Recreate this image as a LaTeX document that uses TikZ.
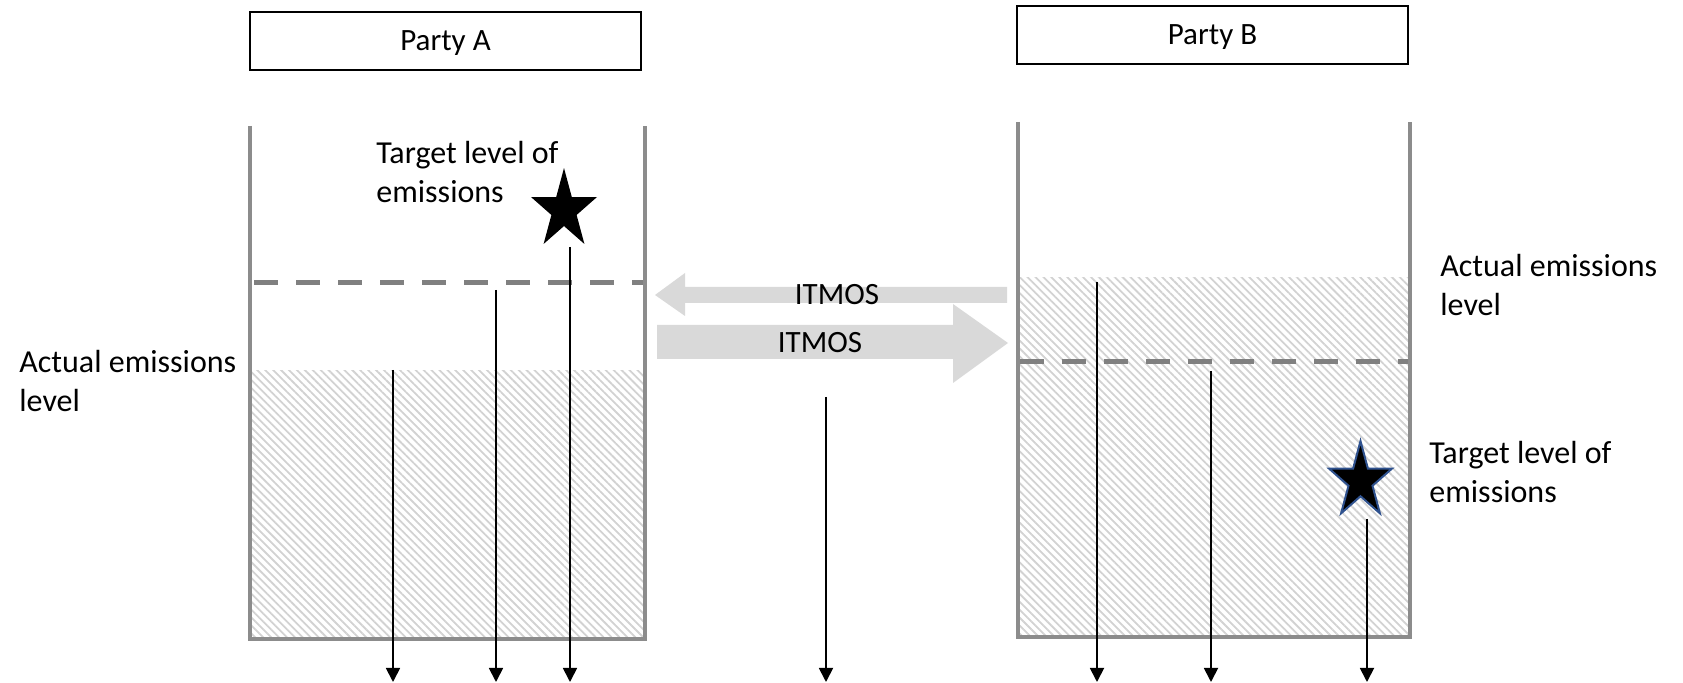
\documentclass[tikz,border=0pt]{standalone}
\usepackage{fontspec}
\setmainfont{Carlito}
\usetikzlibrary{arrows.meta,patterns.meta,shapes.geometric}
\definecolor{boxgray}{HTML}{8C8C8C}
\definecolor{dashgray}{HTML}{808080}
\definecolor{hatch}{HTML}{D2D2D2}
\definecolor{arrgray}{HTML}{D9D9D9}
\definecolor{starblue}{HTML}{2F528F}
\begin{document}
\begin{tikzpicture}[x=0.5pt,y=-0.5pt,
 lbl/.style={font=\fontsize{16}{19.5}\selectfont, inner sep=0pt, align=left, anchor=north west},
 party/.style={draw=black, line width=0.8pt, minimum width=195.5pt, minimum height=29pt, inner sep=0pt, text height=10pt, text depth=0pt, font=\fontsize{15.5}{19}\selectfont},
 container/.style={draw=boxgray, line width=2pt},
 level/.style={draw=dashgray, line width=2.5pt, dash pattern=on 12pt off 9pt},
 hatched/.style={pattern={Lines[angle=-45,distance=2.8pt,line width=0.9pt]}, pattern color=hatch},
 flow/.style={draw=black, line width=0.9pt, -{Triangle[width=7pt,length=7pt]}},
 bigarrow/.style={fill=arrgray},
 itmos/.style={font=\fontsize{15.5}{19}\selectfont, inner sep=0pt},
 starshape/.style={star, star points=5, star point ratio=2.618, inner sep=0pt, fill=black},
]
\useasboundingbox (0,0) rectangle (1683,683);

% party boxes
\node[party] (partyA) at (445.5,41) {Party A};
\node[party] (partyB) at (1212.5,35) {Party B};

% hatched areas
\path[hatched] (251,371) rectangle (645,639);
\path[hatched] (1018,278) rectangle (1410,637);

% containers
\draw[container] (250,126) -- (250,639) -- (645,639) -- (645,126);
\draw[container] (1018,122) -- (1018,637) -- (1410,637) -- (1410,122);

% dashed levels
\draw[level] (254,283) -- (643,283);
\draw[level] (1020,362) -- (1408,362);

% big grey arrows
\path[bigarrow] (1007,287) -- (685,287) -- (685,273) -- (655,295) -- (685,316) -- (685,303) -- (1007,303) -- cycle;
\path[bigarrow] (657,325) -- (953,325) -- (953,304) -- (1008,343) -- (953,383) -- (953,359) -- (657,359) -- cycle;
\node[itmos] (itmosL) at (837,295) {ITMOS};
\node[itmos] (itmosR) at (820,343) {ITMOS};

% stars
\node[starshape, minimum size=34.7pt, yscale=1.21] (starA) at (564,210) {};
\node[starshape, draw=starblue, line width=1pt, minimum size=33pt, yscale=1.21] (starB) at (1360.5,481) {};

% labels
\node[lbl] (tA) at (376,141) {Target level of\\emissions};
\node[lbl] (aA) at (19,350) {Actual emissions\\level};
\node[lbl] (aB) at (1440,254) {Actual emissions\\level};
\node[lbl] (tB) at (1429,441) {Target level of\\emissions};

% flow arrows
\coordinate (a1s) at (393,370); \coordinate (a1e) at (393,682);
\coordinate (a2s) at (496,290); \coordinate (a2e) at (496,682);
\coordinate (a3s) at (570,247); \coordinate (a3e) at (570,682);
\coordinate (ms) at (826,397); \coordinate (me) at (826,682);
\coordinate (b1s) at (1097,282); \coordinate (b1e) at (1097,682);
\coordinate (b2s) at (1211,371); \coordinate (b2e) at (1211,682);
\coordinate (b3s) at (1367,519); \coordinate (b3e) at (1367,682);
\draw[flow] (a1s) -- (a1e);
\draw[flow] (a2s) -- (a2e);
\draw[flow] (a3s) -- (a3e);
\draw[flow] (ms) -- (me);
\draw[flow] (b1s) -- (b1e);
\draw[flow] (b2s) -- (b2e);
\draw[flow] (b3s) -- (b3e);
\end{tikzpicture}
\end{document}
